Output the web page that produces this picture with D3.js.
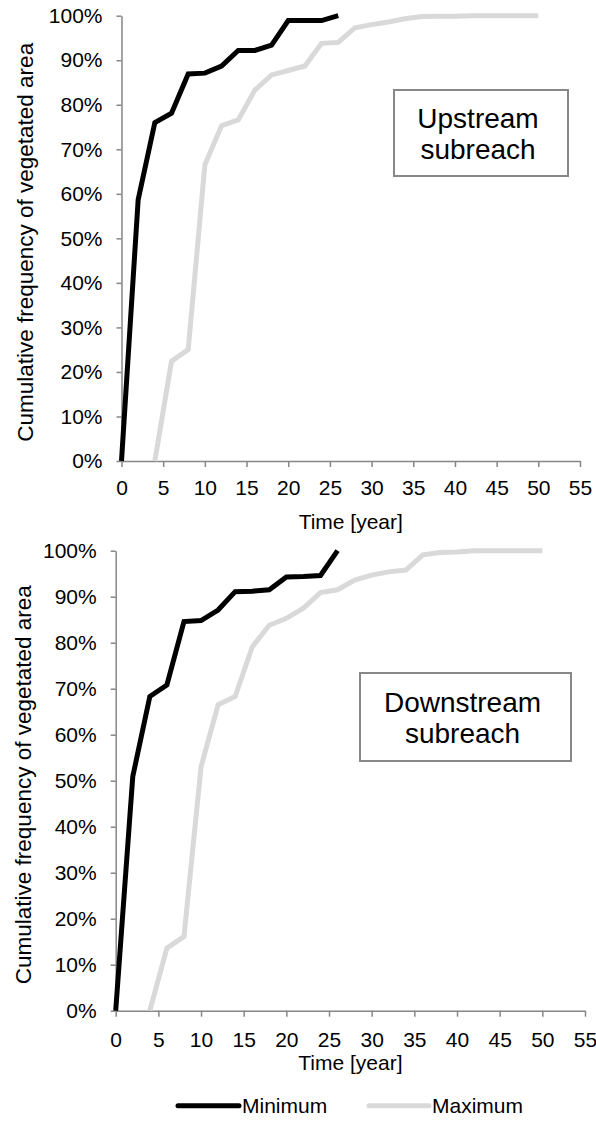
<!DOCTYPE html>
<html>
<head>
<meta charset="utf-8">
<script src="https://cdn.jsdelivr.net/npm/d3@7"></script>
<style>
  body { margin: 0; background: #fff; }
  svg { display: block; }
</style>
</head>
<body>
<script>
// Datos
const years = [0, 2, 4, 6, 8, 10, 12, 14, 16, 18, 20, 22, 24, 26, 28, 30, 32, 34, 36, 38, 40, 42, 44, 46, 48, 50];

const minUp = [0, 58.7, 76.0, 78.1, 86.9, 87.1, 88.7, 92.2, 92.2, 93.4, 98.9, 98.9, 98.9, 100,
    null, null, null, null, null, null, null, null, null, null, null, null];
const maxUp = [null, null, 0, 22.4, 25.0, 66.5, 75.3, 76.6, 83.3, 86.7, 87.7, 88.7, 93.8, 94.0,
    97.3, 98.0, 98.6, 99.3, 99.8, 99.9, 99.9, 100, 100, 100, 100, 100];

const minDown = [0, 50.9, 68.3, 70.8, 84.6, 84.8, 87.1, 91.1, 91.2, 91.5, 94.3, 94.4, 94.6, 100,
    null, null, null, null, null, null, null, null, null, null, null, null];
const maxDown = [null, null, 0, 13.6, 16.1, 53.0, 66.5, 68.3, 79.1, 83.8, 85.3, 87.5, 90.9, 91.5,
    93.6, 94.7, 95.4, 95.8, 99.1, 99.6, 99.7, 100, 100, 100, 100, 100];

const xTicks = [0, 5, 10, 15, 20, 25, 30, 35, 40, 45, 50, 55];
const yTicks = [0, 10, 20, 30, 40, 50, 60, 70, 80, 90, 100];

const seriesNames = ["Minimum", "Maximum"];

// Variables
const w = 596;
const h = 1121;
const font = "'Liberation Sans', Arial, sans-serif";
const axisColor = "#868686";
const minColor = "#000000";
const maxColor = "#d9d9d9";

const svg = d3.select("body")
    .append("svg")
    .attr("width", w)
    .attr("height", h);

function drawPanel(minVals, maxVals, label, p) {
    const xScale = d3.scaleLinear().domain([0, 55]).range([p.left, p.right]);
    const yScale = d3.scaleLinear().domain([0, 100]).range([p.bottom, p.top]);

    const g = svg.append("g");

    // Eje Y
    const yAxis = d3.axisLeft(yScale)
        .tickValues(yTicks)
        .tickFormat(d => d + "%")
        .tickSize(5)
        .tickSizeOuter(0)
        .tickPadding(14);
    const gy = g.append("g")
        .attr("transform", `translate(${p.left},0)`)
        .call(yAxis);

    // Eje X
    const xAxis = d3.axisBottom(xScale)
        .tickValues(xTicks)
        .tickSize(6)
        .tickSizeOuter(0)
        .tickPadding(p.xPad);
    const gx = g.append("g")
        .attr("transform", `translate(0,${p.bottom})`)
        .call(xAxis);

    [gx, gy].forEach(a => {
        a.selectAll("path, line").attr("stroke", axisColor).attr("stroke-width", 1.5);
        a.selectAll("text")
            .attr("fill", "#000")
            .style("font-family", font)
            .style("font-size", "21px");
    });

    // Lineas
    const line = vals => d3.line()
        .defined((d, i) => vals[i] !== null)
        .x(d => xScale(d))
        .y((d, i) => yScale(vals[i]));

    g.append("path")
        .datum(years)
        .attr("d", line(maxVals))
        .attr("fill", "none")
        .attr("stroke", maxColor)
        .attr("stroke-width", 5)
        .attr("stroke-linejoin", "miter");

    g.append("path")
        .datum(years)
        .attr("d", line(minVals))
        .attr("fill", "none")
        .attr("stroke", minColor)
        .attr("stroke-width", 5)
        .attr("stroke-linejoin", "miter");

    // Titulo eje X
    g.append("text")
        .attr("x", (p.left + p.right) / 2)
        .attr("y", p.bottom + p.xTitle)
        .attr("text-anchor", "middle")
        .style("font-family", font)
        .style("font-size", "21px")
        .text("Time [year]");

    // Titulo eje Y
    const ty = (p.top + p.bottom) / 2 + 4;
    g.append("text")
        .attr("transform", `translate(${p.yTitleX},${ty}) rotate(-90)`)
        .attr("text-anchor", "middle")
        .style("font-family", font)
        .style("font-size", "22.5px")
        .text("Cumulative frequency of vegetated area");

    // Caja de etiqueta
    g.append("rect")
        .attr("x", p.box[0])
        .attr("y", p.box[1])
        .attr("width", p.box[2])
        .attr("height", p.box[3])
        .attr("fill", "#fff")
        .attr("stroke", "#888")
        .attr("stroke-width", 2);

    label.forEach((t, i) => {
        g.append("text")
            .attr("x", p.box[0] + p.box[2] / 2 - 3)
            .attr("y", p.box[1] + p.labelY + i * 31)
            .attr("text-anchor", "middle")
            .style("font-family", font)
            .style("font-size", "28px")
            .text(t);
    });
}

drawPanel(minUp, maxUp, ["Upstream", "subreach"], {
    left: 121.5, right: 580, top: 15.7, bottom: 461,
    xPad: 13, xTitle: 68, yTitleX: 33,
    box: [394, 90, 174, 86], labelY: 38
});

drawPanel(minDown, maxDown, ["Downstream", "subreach"], {
    left: 115.7, right: 585, top: 550.7, bottom: 1010.7,
    xPad: 15, xTitle: 59, yTitleX: 31,
    box: [360, 673, 211, 88], labelY: 39
});

// Leyenda
const legend = svg.append("g");
const legendX = [[178, 239], [369, 429]];
const legendColors = [minColor, maxColor];
const legendY = 1105.7;

seriesNames.forEach((name, i) => {
    legend.append("line")
        .attr("x1", legendX[i][0])
        .attr("x2", legendX[i][1])
        .attr("y1", legendY)
        .attr("y2", legendY)
        .attr("stroke", legendColors[i])
        .attr("stroke-width", 5)
        .attr("stroke-linecap", "round");
    legend.append("text")
        .attr("x", legendX[i][1] + 3)
        .attr("y", 1113)
        .style("font-family", font)
        .style("font-size", "21px")
        .text(name);
});
</script>
</body>
</html>
